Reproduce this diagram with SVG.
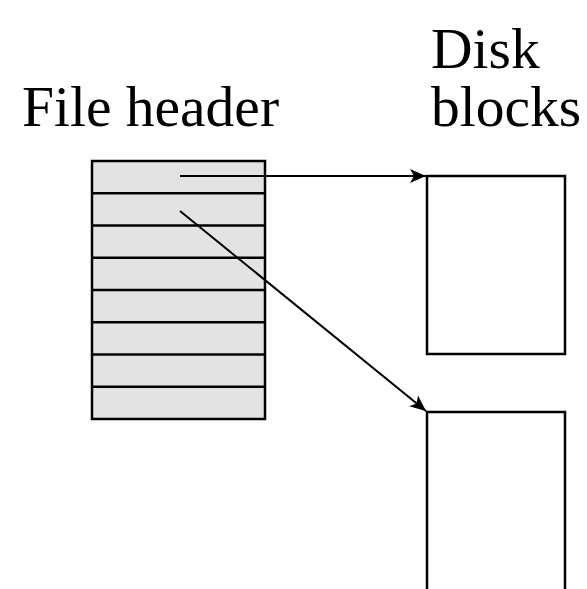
<svg xmlns="http://www.w3.org/2000/svg" width="587" height="589" viewBox="0 0 587 589">
  <style>
    .label { font-family: "Liberation Serif", "Times New Roman", serif; font-size: 57.5px; fill: #000; }
    .box { fill: none; stroke: #000; stroke-width: 2.5; }
    .row { stroke: #000; stroke-width: 2.5; }
    .conn { fill: none; stroke: #000; stroke-width: 2; marker-end: url(#arrow); }
  </style>
  <defs>
    <marker id="arrow" viewBox="0 0 16 14" refX="16" refY="7" markerWidth="16" markerHeight="14" markerUnits="userSpaceOnUse" orient="auto">
      <path d="M0,0 L16,7 L0,14 L4,7 Z" fill="#000"/>
    </marker>
  </defs>
  <rect width="587" height="589" fill="#fff"/>

  <g id="labels">
    <text class="label" x="22" y="126">File header</text>
    <text class="label" x="431" y="68">Disk</text>
    <text class="label" x="431" y="126">blocks</text>
  </g>

  <g id="file-header">
    <rect x="92" y="161" width="173" height="258" fill="#e3e3e3" stroke="#000" stroke-width="2.5"/>
    <line class="row" x1="92" y1="193.25" x2="265" y2="193.25"/>
    <line class="row" x1="92" y1="225.5" x2="265" y2="225.5"/>
    <line class="row" x1="92" y1="257.75" x2="265" y2="257.75"/>
    <line class="row" x1="92" y1="290" x2="265" y2="290"/>
    <line class="row" x1="92" y1="322.25" x2="265" y2="322.25"/>
    <line class="row" x1="92" y1="354.5" x2="265" y2="354.5"/>
    <line class="row" x1="92" y1="386.75" x2="265" y2="386.75"/>
  </g>

  <g id="disk-block-1">
    <rect class="box" x="427" y="176" width="138" height="178"/>
  </g>

  <g id="disk-block-2">
    <rect class="box" x="427" y="412" width="138" height="190"/>
  </g>

  <g id="connectors">
    <line class="conn" x1="180" y1="176" x2="426" y2="176"/>
    <line class="conn" x1="180" y1="211" x2="426" y2="411"/>
  </g>
</svg>
